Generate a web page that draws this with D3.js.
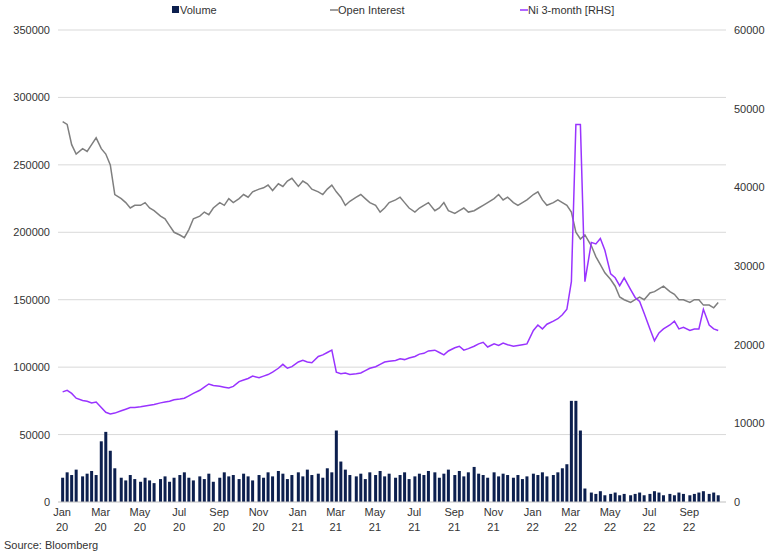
<!DOCTYPE html><html><head><meta charset="utf-8">
<script src="https://cdn.jsdelivr.net/npm/d3@7"></script>
<style>body{margin:0;background:#fff;font-family:"Liberation Sans",Arial,sans-serif}</style></head><body>
<svg id="c" width="770" height="555"></svg>
<script>
// Weekly points, 4 per month from Jan 2020 to Oct 2022 (3 in Oct 2022)
const openInterest=[282,280,265,258,262,260,265,270,262,258,250,228,225,222,218,220,220,222,218,216,212,210,205,200,198,196,202,210,212,215,213,218,222,220,225,222,225,228,226,230,232,233,235,231,236,234,238,240,
234,238,236,232,230,228,232,235,230,226,220,223,226,228,225,222,220,215,218,222,224,226,222,218,215,218,220,222,216,218,222,216,214,216,218,215,216,218,220,222,225,228,224,226,222,220,222,224,
228,230,224,220,222,224,222,220,215,200,195,198,190,182,176,170,165,160,152,150,148,150,152,150,155,156,158,160,156,154,150,150,148,150,150,146,146,144,148].map(v=>v*1000);
const nickel=[14000,14200,13800,13200,12900,12800,12600,12700,12000,11400,11200,11300,11600,11800,12000,12000,12100,12200,12300,12400,12600,12700,12800,13000,13100,13200,13500,13800,14200,14600,15000,14800,14700,14600,14500,14700,15300,15500,15700,16000,15800,16000,16200,16500,17000,17500,17000,17200,
17800,18000,17800,17700,18500,18700,19000,19300,16500,16300,16400,16200,16300,16400,16700,17000,17200,17500,17800,17900,18000,18200,18100,18300,18500,18800,18900,19200,19300,19000,18700,19200,19600,19800,19300,19500,19800,20100,20300,19700,20100,19900,20200,20000,19800,19900,20000,20100,
21800,22500,22000,22600,23000,23300,23800,24500,28000,48000,48000,28000,33000,32800,33500,32000,29000,28500,27500,28500,27000,26000,25500,24000,22000,20500,21500,22000,22500,23000,22000,22200,21800,22000,22000,24500,22500,22000,21800];
const volume=[18,22,20,24,19,21,23,20,45,52,38,25,18,16,20,17,15,18,16,14,17,19,15,18,20,22,18,16,19,17,21,15,18,22,19,20,17,21,19,16,20,18,22,19,23,21,17,20,
22,19,24,20,21,18,25,22,53,30,24,20,19,21,17,22,20,23,19,21,18,20,22,17,19,21,20,23,22,18,21,24,20,23,19,22,26,21,20,18,22,19,21,20,18,20,17,19,
21,20,22,19,20,22,25,28,75,75,53,10,7,6,8,5,6,7,5,6,5,6,7,5,6,8,7,5,6,5,7,6,5,6,7,8,6,7,5].map(v=>v*1000);
const dates=volume.map((_,i)=>new Date(2020,Math.floor(i/4),2+7*(i%4)));
const leftTicks=[0,50000,100000,150000,200000,250000,300000,350000];
const rightTicks=[0,10000,20000,30000,40000,50000,60000];
const monthNames=["Jan","Feb","Mar","Apr","May","Jun","Jul","Aug","Sep","Oct","Nov","Dec"];

const svg=d3.select("#c");
const L=58,R=726,T=30,B=502;
const x=d3.scaleTime().domain([new Date(2020,0,1),new Date(2022,9,25)]).range([62,724]);
const yL=d3.scaleLinear().domain([0,350000]).range([B,T]);
const yR=d3.scaleLinear().domain([0,60000]).range([B,T]);
const fs="11px";
// grid
svg.append("g").selectAll("line").data(leftTicks.slice(1)).join("line")
 .attr("x1",L).attr("x2",R).attr("y1",d=>yL(d)).attr("y2",d=>yL(d)).attr("stroke","#d9d9d9");
// axes
const gl=svg.append("g").attr("transform",`translate(${L},0)`).call(d3.axisLeft(yL).tickValues(leftTicks).tickFormat(d3.format("d")).tickSize(0).tickPadding(8));
const gr=svg.append("g").attr("transform",`translate(${R},0)`).call(d3.axisRight(yR).tickValues(rightTicks).tickFormat(d3.format("d")).tickSize(0).tickPadding(8));
[gl,gr].forEach(g=>{g.select(".domain").remove();g.selectAll("text").attr("font-size",fs).attr("fill","#333").attr("font-family","Liberation Sans, Arial");});
// volume bars
svg.append("g").selectAll("rect").data(volume).join("rect")
 .attr("x",(d,i)=>x(dates[i])-1.5).attr("width",3)
 .attr("y",d=>yL(d)).attr("height",d=>B-yL(d)).attr("fill","#0c1f4e");
// baseline
svg.append("line").attr("x1",L).attr("x2",R).attr("y1",B).attr("y2",B).attr("stroke","#bfbfbf");
// lines
svg.append("path").datum(openInterest).attr("fill","none").attr("stroke","#7f7f7f").attr("stroke-width",1.5)
 .attr("d",d3.line().x((d,i)=>x(dates[i])).y(d=>yL(d)));
svg.append("path").datum(nickel).attr("fill","none").attr("stroke","#9933ff").attr("stroke-width",1.5)
 .attr("d",d3.line().x((d,i)=>x(dates[i])).y(d=>yR(d)));
// x ticks
const xt=d3.timeMonth.every(2).range(new Date(2020,0,1),new Date(2022,9,2));
const gx=svg.append("g").selectAll("text").data(xt).join("text")
 .attr("x",d=>x(d)).attr("y",B+14).attr("text-anchor","middle").attr("font-size",fs).attr("fill","#333");
gx.append("tspan").attr("x",d=>x(d)).text(d=>monthNames[d.getMonth()]);
gx.append("tspan").attr("x",d=>x(d)).attr("dy",15).text(d=>String(d.getFullYear()).slice(2));
// legend
const lg=svg.append("g").attr("font-size",fs).attr("fill","#333");
lg.append("rect").attr("x",172).attr("y",6).attr("width",7).attr("height",7).attr("fill","#0c1f4e");
lg.append("text").attr("x",180).attr("y",14).text("Volume");
lg.append("line").attr("x1",330).attr("x2",338).attr("y1",10).attr("y2",10).attr("stroke","#7f7f7f").attr("stroke-width",1.5);
lg.append("text").attr("x",338).attr("y",14).text("Open Interest");
lg.append("line").attr("x1",520).attr("x2",528).attr("y1",10).attr("y2",10).attr("stroke","#9933ff").attr("stroke-width",1.5);
lg.append("text").attr("x",528).attr("y",14).text("Ni 3-month [RHS]");
svg.append("text").attr("x",4).attr("y",549).attr("font-size",fs).attr("fill","#333").text("Source: Bloomberg");
</script></body></html>
